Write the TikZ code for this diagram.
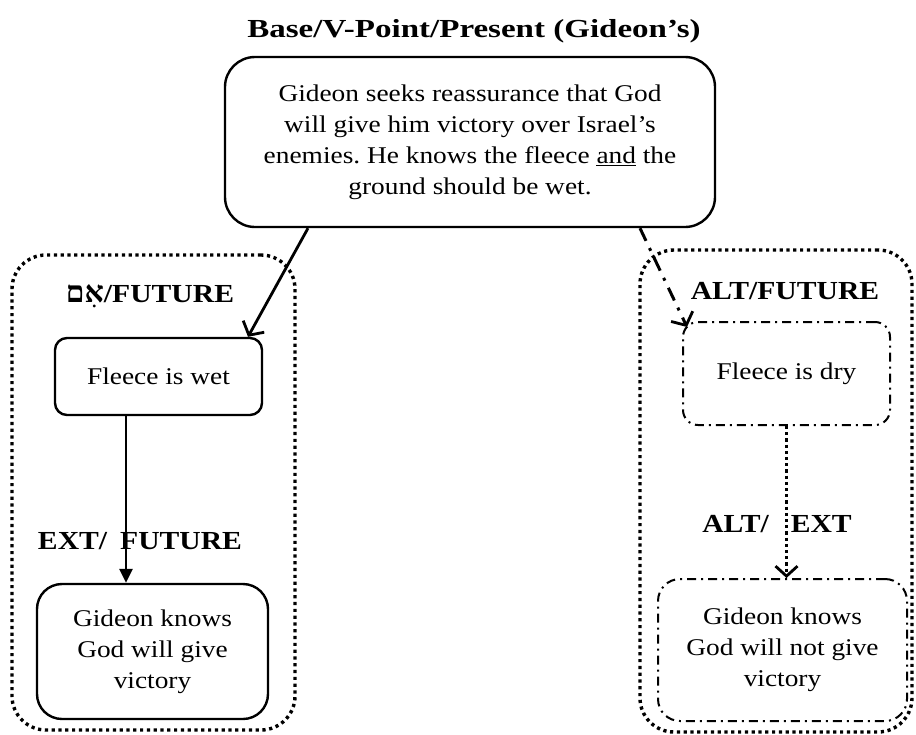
\documentclass[tikz,border=0pt]{standalone}
\usepackage{fontspec}
\setmainfont{Liberation Serif}[FakeStretch=1.14]
\newfontfamily\titlefont{Liberation Serif}[FakeStretch=1.27]
\newfontfamily\hebfont[Script=Hebrew]{Liberation Serif}
\TeXXeTstate=1
\frenchspacing
\usetikzlibrary{arrows.meta,calc}

\begin{document}
\begin{tikzpicture}[x=1pt,y=-1pt,
  bodytext/.style={font=\fontsize{24}{31}\selectfont, align=center},
  heading/.style={font=\fontsize{26}{30}\selectfont\bfseries, inner sep=0pt},
  solidbox/.style={bodytext, draw, line width=2.4pt, inner sep=0pt},
  dashdotbox/.style={bodytext, draw, line width=2pt, inner sep=0pt,
    dash pattern=on 9pt off 5pt on 2pt off 5pt},
  container/.style={draw, line width=3.4pt, inner sep=0pt,
    dash pattern=on 3.2pt off 3.6pt, rounded corners=34pt},
  solidarrow/.style={line width=2.8pt, -{Straight Barb[length=10pt,width=24pt,line width=2.8pt]}},
  filledarrow/.style={line width=2.8pt, -{Triangle[length=14pt,width=13pt]}},
  dashedarrow/.style={line width=3pt, dash pattern=on 14pt off 8pt on 3pt off 8pt,
    -{Straight Barb[length=10pt,width=24pt,line width=2.8pt]}},
  dottedarrow/.style={line width=3pt, dash pattern=on 3.2pt off 3pt,
    -{Straight Barb[length=10pt,width=22pt,line width=2.8pt]}}
]
\useasboundingbox (0,0) rectangle (916,734);

% outer groups
\node[container, minimum width=283pt, minimum height=475pt] (leftgroup) at (153.5,492.5) {};
\node[container, minimum width=272pt, minimum height=482pt] (rightgroup) at (776,491) {};

% title and base box
\node[heading, font=\fontsize{26}{30}\selectfont\titlefont\bfseries] (title) at (474,31) {Base/V-Point/Present (Gideon’s)};
\node[solidbox, rounded corners=30pt, minimum width=490pt, minimum height=170pt] (base) at (470,142)
  {Gideon seeks reassurance that God\\will give him victory over Israel’s\\enemies. He knows the fleece \underline{and} the\\ground should be wet.};

% left branch
\node[heading] (iflabel) at (150,296) {{\fontsize{30}{30}\selectfont\hebfont\beginR אִם\endR}/FUTURE};
\node[solidbox, rounded corners=12pt, minimum width=207pt, minimum height=77pt] (wet) at (158.5,376.5) {Fleece is wet};
\node[heading] (extlabel) at (140,541) {EXT/\hspace{13pt}FUTURE};
\node[solidbox, rounded corners=25pt, minimum width=231pt, minimum height=135pt] (knows) at (152.5,651.5)
  {Gideon knows\\God will give\\victory};

% right branch
\node[heading] (altlabel) at (785,291) {ALT/FUTURE};
\node[dashdotbox, rounded corners=15pt, minimum width=207pt, minimum height=103pt] (dry) at (786.5,373.5) {Fleece is dry};
\node[heading] (altext) at (777,524) {ALT/\hspace{22pt}EXT};
\node[dashdotbox, rounded corners=22pt, minimum width=249pt, minimum height=142pt] (knowsnot) at (782.5,650)
  {Gideon knows\\God will not give\\victory};

% connectors
\draw[solidarrow] ([xshift=-162pt]base.south) -- ([xshift=89.5pt]wet.north);
\draw[filledarrow] ([xshift=-32.5pt]wet.south) -- ([xshift=-26.5pt]knows.north);
\draw[dashedarrow] ([xshift=170pt]base.south) -- ([xshift=5pt,yshift=-6pt]dry.north west);
\draw[dottedarrow] (dry.south) -- (dry.south |- knowsnot.north);
\end{tikzpicture}
\end{document}
